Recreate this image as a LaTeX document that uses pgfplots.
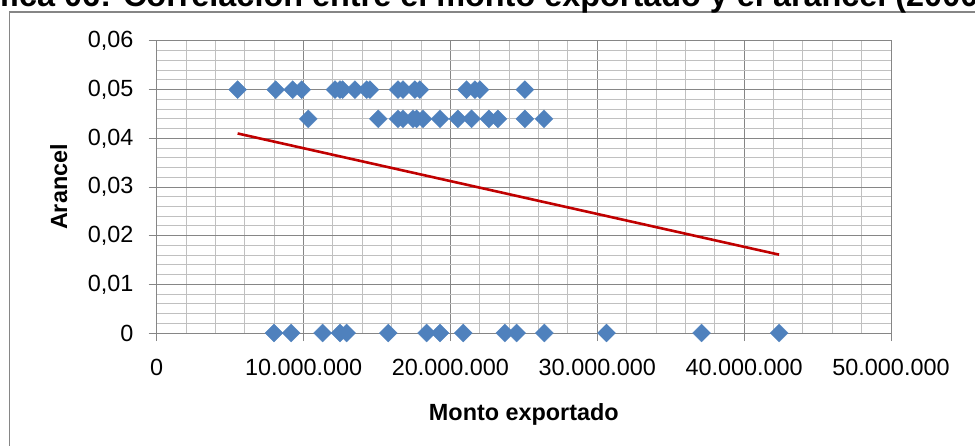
\documentclass[border=0pt]{standalone}
\usepackage{pgfplots}
\pgfplotsset{compat=1.18}
\usepackage{pgfplotstable}
\usepackage{fontspec}
\setmainfont{Liberation Sans}
\definecolor{ptblue}{HTML}{4F81BD}
\definecolor{trend}{HTML}{C00000}
\definecolor{majgrid}{HTML}{868686}
\definecolor{mingrid}{HTML}{C0C0C0}

\pgfplotstableread{
x y
5510000 0.05
8100000 0.05
9260000 0.05
9870000 0.05
12140000 0.05
12480000 0.05
12660000 0.05
13500000 0.05
14300000 0.05
14520000 0.05
16430000 0.05
16770000 0.05
17580000 0.05
17920000 0.05
21100000 0.05
21670000 0.05
22010000 0.05
25070000 0.05
10320000 0.044
15090000 0.044
16430000 0.044
16770000 0.044
17450000 0.044
17700000 0.044
18130000 0.044
19290000 0.044
20510000 0.044
21440000 0.044
22620000 0.044
23230000 0.044
25070000 0.044
26370000 0.044
7990000 0
9150000 0
11300000 0
12480000 0
12930000 0
15770000 0
18380000 0
19290000 0
20870000 0
23710000 0
24510000 0
26400000 0
30630000 0
37100000 0
42380000 0
}\datatable

\begin{document}
\begin{tikzpicture}[x=1pt,y=1pt]
\useasboundingbox (0,0) rectangle (975,445);
\draw[majgrid, line width=1.5pt] (9.5,-10) -- (9.5,433) -- (1000,433);
\node[anchor=base west, inner sep=0pt, font=\fontsize{32.4}{38}\selectfont\bfseries] at (-56.6,438.3)
  {Gráfica 06: Correlación entre el monto exportado y el arancel (2000 - 2012)};
\begin{axis}[
  at={(156.7pt,112pt)}, anchor=south west,
  scale only axis, width=734.3pt, height=292pt,
  xmin=0, xmax=50000000, ymin=0, ymax=0.06,
  xtick={0,10000000,20000000,30000000,40000000,50000000},
  xticklabels={0,10.000.000,20.000.000,30.000.000,40.000.000,50.000.000},
  ytick={0,0.01,0.02,0.03,0.04,0.05,0.06},
  yticklabels={0,{0,01},{0,02},{0,03},{0,04},{0,05},{0,06}},
  minor x tick num=4, minor y tick num=4,
  grid=both,
  major grid style={majgrid, line width=1pt},
  minor grid style={mingrid, line width=1pt},
  axis line style={majgrid, line width=1pt},
  tick align=outside, major tick length=8pt, minor tick length=0pt,
  tick style={majgrid, line width=1pt},
  xtick pos=left, ytick pos=left,
  scaled ticks=false,
  tick label style={font=\fontsize{23.4}{28}\selectfont, inner sep=0pt},
  xticklabel style={anchor=north, yshift=-18pt},
  yticklabel style={anchor=east, xshift=-15pt},
  xlabel={Monto exportado}, ylabel={Arancel},
  label style={font=\fontsize{23.4}{28}\selectfont\bfseries},
  xlabel style={at={(axis description cs:0.5,0)}, anchor=center, yshift=-81pt},
  ylabel style={at={(axis description cs:-0.1334,0.5)}, anchor=center},
  clip=false,
]
\addplot[only marks, mark=square*, mark size=6.4pt,
  mark options={rotate=45, fill=ptblue, draw=ptblue, line width=0.2pt}] table[x=x,y=y] {\datatable};
\addplot[trend, line width=2.6pt, no marks] coordinates {(5510000,0.0410) (42380000,0.0161)};
\end{axis}
\end{tikzpicture}
\end{document}
